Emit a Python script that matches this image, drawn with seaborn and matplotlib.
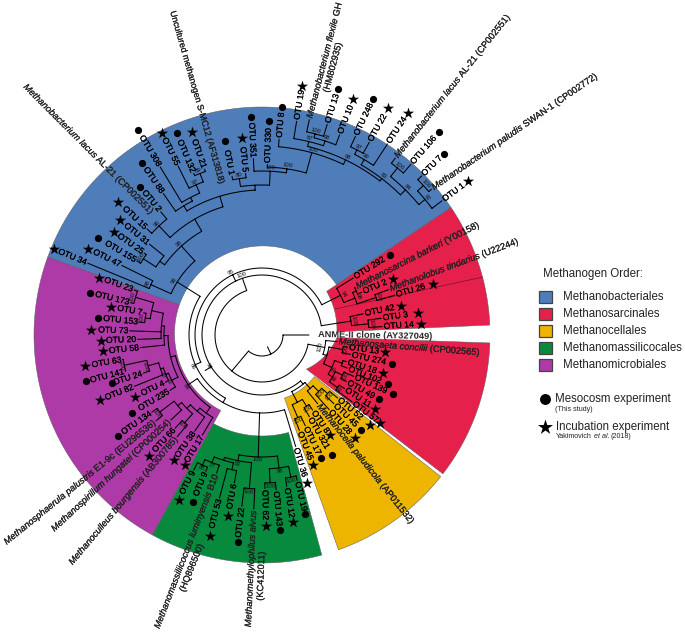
import numpy as np
import pandas as pd
import matplotlib
matplotlib.use("Agg")
import matplotlib.pyplot as plt
import matplotlib.patheffects as pe
from matplotlib.font_manager import FontProperties
from matplotlib.patches import Rectangle
from matplotlib.textpath import text_to_path
import seaborn as sns

FONT = "Liberation Sans"

# ---------- order sectors ----------
ORDER_NAMES = ["Methanobacteriales", "Methanosarcinales", "Methanocellales",
               "Methanomassilicocales", "Methanomicrobiales"]
ORDER_COLORS = ["#4E7DBA", "#E5204B", "#EDB400", "#078A3E", "#AD3AA6"]
SECTOR_ORDER = [0, 1, 1, 4, 3, 2]
SECTOR_START = [34, 2.5, 322.5, 160, 241.3, 289.6]
SECTOR_END = [160, 34, 358, 241.3, 285.2, 321.6]
SECTOR_R_START = [90, 75, 56, 88, 101, 67]
SECTOR_R_END = [88, 78, 75, 86, 101, 67]
OUTER_R = 228

# ---------- leaves: key, angle, inner end of label, marker radius, marker ----------
BLUE_KEYS = ["OTU 34", "OTU 47", "OTU 155", "OTU 25", "OTU 31", "OTU 15", "OTU 2", "OTU 88", "OTU 308",
             "OTU 55", "OTU 132", "OTU 21", "OTU 1", "OTU 5", "OTU 351", "OTU 330", "OTU 8", "OTU 19",
             "OTU 13", "OTU 10", "OTU 248", "OTU 22", "OTU 24", "OTU 106", "OTU 7", "OTU 1#b"]
BLUE_T = [157.6, 153.6, 149.4, 145.2, 141.1, 137.3, 129.4, 124.9, 121.2, 116.4, 112.9, 109.1, 100.7, 95.8,
          92.8, 88.2, 85, 80.8, 72.8, 68.8, 64.8, 60.9, 56.7, 48.9, 44.9, 36.7]
BLUE_R = [190, 158, 147, 145, 146, 158, 161, 174, 198, 190, 177, 177, 163, 164, 178, 172, 198, 218,
          222, 216, 221, 222, 230, 228, 227, 226]
BLUE_M = [225, 194, 190, 180, 183, 196, 192, 210, 240, 226, 219, 215, 197, 198, 218, 214, 229, 252,
          257, 253, 261, 260, 266, 269, 257, 257]
BLUE_S = ["*", "*", "o", "*", "*", "*", "o", "o", "o", "*", "o", "*", "o", "*", "o", "o", "o", "*",
          "o", "*", "o", "*", "*", "o", "o", "*"]

RED_KEYS = ["OTU 292", "OTU 2#r", "OTU 26", "OTU 42", "OTU 3", "OTU 14", "OTU 13#r", "OTU 274", "OTU 18",
            "OTU 102", "OTU 139", "OTU 49", "OTU 11", "OTU 57"]
RED_T = [32, 23.2, 16.7, 11.8, 8, 4, 352, 347.6, 342.5, 338.8, 335.7, 331.2, 327, 323.4]
RED_R = [109, 110, 140, 105, 122, 122, 88, 92, 90, 93, 102, 98, 100, 114]
RED_M = [151, 143, 179, 142, 158, 159, 124, 133, 127, 135, 144, 133, 135, 147]
RED_S = ["o", "*", "*", "*", "*", "*", "*", "o", "*", "o", "o", "o", "*", "*"]

YEL_KEYS = ["OTU 52", "OTU 45", "OTU 28", "OTU 8#y", "OTU 321", "OTU 17", "OTU 45#y", "OTU 36"]
YEL_T = [320.2, 316.3, 312, 304, 300.1, 295.5, 291.4, 286.8]
YEL_R = [100, 101, 102, 92, 96, 102, 104, 118]
YEL_M = [140, 137, 139, 121, 139, 136, 140, 155]
YEL_S = ["*", "o", "*", "*", "o", "o", "*", "*"]

GRN_KEYS = ["OTU 9#s", "OTU 9#c", "OTU 53", "OTU 6", "OTU 22#g", "OTU 62", "OTU 143", "OTU 12", "OTU 19#g"]
GRN_T = [243.2, 247.6, 255.4, 259.4, 263.3, 271.1, 275.2, 279.3, 283.6]
GRN_R = [153, 149, 170, 152, 174, 155, 157, 155, 151]
GRN_M = [185, 181, 208, 184, 208, 191, 196, 189, 184]
GRN_S = ["*", "o", "*", "*", "o", "*", "o", "*", "o"]

PUR_KEYS = ["OTU 23", "OTU 173", "OTU 7#p", "OTU 153", "OTU 73", "OTU 20", "OTU 58", "OTU 63", "OTU 141",
            "OTU 24#p", "OTU 82", "OTU 4", "OTU 235", "OTU 134", "OTU 66", "OTU 38", "OTU 17#p"]
PUR_T = [160.6, 166.2, 169.4, 174, 178.2, 182, 185.9, 190, 194.8, 197.8, 201.9, 206, 211, 215, 227, 235, 239.2]
PUR_R = [137, 137, 122, 125, 134, 126, 124, 143, 143, 126, 139, 109, 109, 136, 129, 119, 118]
PUR_M = [173, 177, 154, 165, 171, 161, 160, 180, 182, 158, 175, 141, 152, 176, 166, 153, 151]
PUR_S = ["*", "o", "*", "o", "*", "*", "*", "*", "o", "o", "*", "*", "o", "o", "*", "*", "*"]

# named reference sequences (italic part | roman part)
REF_KEYS = ["Methanobacterium lacus|AL-21 (CP002551)#l", "Uncultured methanogen S-MC12 (AF313818)",
            "Methanobacterium flexile|GH", "Methanobacterium lacus|AL-21 (CP002551)#r",
            "Methanobacterium paludis|SWAN-1 (CP002772)", "Methanosarcina barkeri|(Y00158)",
            "Methanolobus tindarius|(U22244)", "Methanosaeta concilii|(CP002565)",
            "Methanocella paludicola|(AP011532)", "Methanomethylophilus alvus",
            "Methanomassiliicoccus luminyensis|B10", "Methanosphaerula palustris|E1-9c (EU296536)",
            "Methanospirillum hungatei|(CP000254)", "Methanoculleus bourgensis|(AB300785)",
            "ANME-II clone (AY327049)"]
REF_T = [132, 104.8, 77.6, 53, 40.7, 27, 19.7, 355, 309, 267.3, 251.8, 219, 223, 230.2, 360]
REF_R = [164, 155, 222, 223, 225, 106, 136, 77, 90, 176, 147, 138, 126, 134, 56]
REF_ROT = [-45, -74, 75.5, 51.5, 34.5, 27, 20.5, -4.5, -51.5, 87.4, 69, 39, 43, 50, -1]

# accession numbers set on a second line
LINE2_TEXT = ["(HM802935)", "(KC412011)", "(HQ896500)"]
LINE2_T = [75.2, 270, 253.8]
LINE2_R = [251, 216, 218]
LINE2_ROT = [75, 88, 68]

# ---------- experiment legend ----------
LEGEND_TITLE = "Methanogen Order:"
EXP_NAMES = ["Mesocosm experiment", "Incubation experiment"]
EXP_NOTES = ["(This study)", "Yakimovich ", "et al.", " (2018)"]

KEYS = BLUE_KEYS + RED_KEYS + YEL_KEYS + GRN_KEYS + PUR_KEYS + REF_KEYS
THETA = dict(zip(KEYS, BLUE_T + RED_T + YEL_T + GRN_T + PUR_T + REF_T))
RIN = dict(zip(KEYS, BLUE_R + RED_R + YEL_R + GRN_R + PUR_R + REF_R))
LEAF_END_OVERRIDE = {"ANME-II clone (AY327049)": 47}


def N(r, *kids, s=None, at=None):
    return {"r": r, "kids": kids, "s": s, "at": at}


# ---------- tree: node radius, children, support ----------
R = REF_KEYS
n_flex = N(208, R[2], "OTU 13", s="100")
n_10 = N(204, n_flex, "OTU 10", s="68")
n_87 = N(199, "OTU 19", n_10, s="87")
n_97 = N(208, "OTU 248", "OTU 22", s="97")
n_99 = N(203, n_97, "OTU 24", s="99")
n_la = N(215, R[3], "OTU 106", s="100")
n_pa = N(220, "OTU 7", R[4], s="100")
n_b4 = N(212, n_pa, "OTU 1#b", s="92")
n_b3 = N(204, n_la, n_b4, s="84")
n_b2 = N(197, n_99, n_b3, s="83")
n_b1 = N(194, n_87, n_b2, s="68")
n_b0 = N(189, "OTU 8", n_b1, s="100")
n_330 = N(168, "OTU 330", n_b0, s="100")
n_351 = N(164, "OTU 351", n_330, s="100")
n_15 = N(158, "OTU 1", "OTU 5", s="80")
n_P = N(150, n_15, n_351)
n_21 = N(173, "OTU 132", "OTU 21", s="89")
n_55 = N(164, "OTU 55", n_21, s="97")
n_308 = N(155, "OTU 308", n_55)
n_U = N(151, "OTU 88", n_308)
n_T = N(145, n_U, n_P)
n_2 = N(150, "OTU 2", "OTU 15", s="96")
n_S = N(134, n_2, n_T)
n_25 = N(141, "OTU 25", "OTU 155", s="100")
n_W = N(126, "OTU 31", n_25)
n_Z = N(120, n_W, n_S, s="98")
n_Y = N(122, "OTU 47", "OTU 34", s="98")
BLUE = N(100, n_Z, n_Y, s="96", at=148)

n_23 = N(132, "OTU 23", "OTU 173", s="100")
n_7 = N(118, "OTU 7#p", "OTU 153", s="100")
n_t1 = N(113, n_23, n_7)
n_t2 = N(101, n_t1, "OTU 73", "OTU 20")
n_t3 = N(98, n_t2, "OTU 58")
n_63 = N(141, "OTU 63", "OTU 141", s="100")
n_24 = N(118, n_63, "OTU 24#p", s="100")
n_a1 = N(107, n_24, "OTU 82")
n_a2 = N(104, n_a1, "OTU 4", s="87")
n_a3 = N(101, n_a2, "OTU 235", s="93")
n_a4 = N(94, n_t3, n_a3)
n_134 = N(128, "OTU 134", R[11], s="100")
n_b_1 = N(110, n_134, R[12])
n_66 = N(117, "OTU 66", R[13], s="100")
n_b_2 = N(105, n_b_1, n_66)
n_b_3 = N(100, n_b_2, "OTU 38")
n_b_4 = N(96, n_b_3, "OTU 17#p")
PURPLE = N(89, n_a4, n_b_4, s="84", at=214)

n_99g = N(143, "OTU 9#s", "OTU 9#c", s="85")
n_g5 = N(137, n_99g, R[10], s="77")
n_53 = N(138, "OTU 53", "OTU 6")
n_g4 = N(131, n_g5, n_53)
n_22 = N(154, "OTU 22#g", R[9], s="100")
n_g2 = N(128, n_g4, n_22, s="92")
n_62 = N(148, "OTU 62", "OTU 143", s="100")
n_12 = N(145, "OTU 12", "OTU 19#g", s="100")
n_g3 = N(134, n_62, n_12, s="98")
GREEN = N(122, n_g2, n_g3, s="100")

K = N(78, PURPLE, GREEN, "OTU 36", at=240)
H = N(73, BLUE, K, s="86", at=204)

n_r2 = N(104, R[5], "OTU 2#r")
n_m = N(120, R[6], "OTU 26", s="100")
n_n = N(100, n_r2, n_m, s="98")
UP_RED = N(88, "OTU 292", n_n, s="94")
G = N(67, UP_RED, H, s="95", at=116)

n_3 = N(107, "OTU 3", "OTU 14", s="100")
RED3 = N(90, "OTU 42", n_3, s="100")

n_ya = N(88, "OTU 52", "OTU 45", s="100")
n_yb = N(80, n_ya, "OTU 28", s="100")
n_yc = N(72, n_yb, R[8])
n_yd = N(84, "OTU 8#y", "OTU 321", s="100")
n_ye = N(90, "OTU 17", "OTU 45#y", s="100")
n_yf = N(76, n_yd, n_ye)
YELLOW = N(64, n_yc, n_yf, at=310)

B = N(60, RED3, G, YELLOW, s="100", at=109)

n_13 = N(82, "OTU 13#r", "OTU 274", s="100")
n_18 = N(85, "OTU 18", "OTU 102")
n_l4 = N(90, "OTU 139", "OTU 49", s="100")
n_l5 = N(92, "OTU 11", "OTU 57", s="99")
n_l3 = N(82, n_l4, n_l5, s="96")
n_l2 = N(77, n_18, n_l3, s="95")
n_l1 = N(68, n_13, n_l2)
LOW_RED = N(64, R[7], n_l1)
n_l_stem = N(56, LOW_RED, s="100")

A = N(47, B, n_l_stem, at=230)
ROOT = N(21, A, R[14])
ROOT_STUB = 13
EXTRA_SPOKE = (212, 60, 67)
EXTRA_SUPPORT = (210, 62, "96")

# ---------- figure ----------
sns.set_theme(style="white")
plt.rcParams["font.family"] = [FONT, "DejaVu Sans"]

W, H_PX, DPI = 685, 636, 100
CX, CY, RMAX = 262, 335, 350
fig = plt.figure(figsize=(W / DPI, H_PX / DPI), dpi=DPI, facecolor="white")
ax = fig.add_axes([(CX - RMAX) / W, (H_PX - CY - RMAX) / H_PX, 2 * RMAX / W, 2 * RMAX / H_PX],
                  projection="polar")
ax.set_theta_zero_location("E")
ax.set_theta_direction(1)
ax.patch.set_alpha(0)
THICK = [pe.withStroke(linewidth=0.12, foreground="black")]


def rad(d):
    return np.deg2rad(d)


# sectors
for oi, t0, t1, r0, r1 in zip(SECTOR_ORDER, SECTOR_START, SECTOR_END, SECTOR_R_START, SECTOR_R_END):
    outer = np.linspace(t0, t1, 120)
    inner = outer[::-1]
    ax.fill(rad(np.r_[outer, inner]),
            np.r_[np.full(120, OUTER_R), np.interp(inner, [t0, t1], [r0, r1])],
            facecolor=ORDER_COLORS[oi], edgecolor="#5a5a5a", linewidth=0.35, zorder=1)
ax.plot(rad([19.6, 14.7]), [77.5, OUTER_R], color="#7a1030", lw=0.5, zorder=2)

# tree
seg_t, seg_r, sup = [], [], []


def angle(k):
    if isinstance(k, str):
        return THETA[k]
    if k["at"] is not None:
        return k["at"]
    a = [angle(c) for c in k["kids"]]
    return 0.5 * (min(a) + max(a))


def radius(k):
    if isinstance(k, str):
        return LEAF_END_OVERRIDE.get(k, RIN[k] - 1.5)
    return k["r"]


def walk(n):
    a = [angle(c) for c in n["kids"]]
    me = angle(n)
    lo, hi = min(a + [me]), max(a + [me])
    tt = np.linspace(lo, hi, max(int(hi - lo) * 2, 2))
    seg_t.extend(list(tt) + [np.nan])
    seg_r.extend([n["r"]] * len(tt) + [np.nan])
    for c, ac in zip(n["kids"], a):
        seg_t.extend([ac, ac, np.nan])
        seg_r.extend([n["r"], radius(c), np.nan])
        if not isinstance(c, str):
            walk(c)
    if n["s"]:
        sup.append((me, n["r"] + 3.2, n["s"]))


walk(ROOT)
root_a = angle(ROOT)
seg_t.extend([root_a, root_a, np.nan, EXTRA_SPOKE[0], EXTRA_SPOKE[0], np.nan])
seg_r.extend([ROOT_STUB, ROOT["r"], np.nan, EXTRA_SPOKE[1], EXTRA_SPOKE[2], np.nan])
sup.append(EXTRA_SUPPORT)
ax.plot(rad(np.array(seg_t)), seg_r, color="black", lw=0.75, zorder=3, solid_capstyle="round")

for t, r, s in sup:
    rot = ((t - 90 + 90) % 180) - 90
    ax.text(rad(t), r, s, fontsize=4.3, color="#111111", rotation=rot, rotation_mode="anchor",
            ha="center", va="center", zorder=4)


# labels
def width_pt(s, size, style="normal"):
    fp = FontProperties(family=FONT, style=style, size=size)
    return text_to_path.get_text_width_height_descent(s, fp, False)[0]


def placement(t):
    t = t % 360
    if 90 < t < 270:
        return "right", t - 180
    return "left", (t - 360 if t > 270 else t)


FS = 6.65
FS_OTU = 6.2
for key, t, r in zip(BLUE_KEYS + RED_KEYS + YEL_KEYS + GRN_KEYS + PUR_KEYS,
                     BLUE_T + RED_T + YEL_T + GRN_T + PUR_T,
                     BLUE_R + RED_R + YEL_R + GRN_R + PUR_R):
    ha, rot = placement(t)
    ax.text(rad(t), r, key.split("#")[0], fontsize=FS_OTU, color="black", ha=ha, va="center",
            rotation=rot, rotation_mode="anchor", zorder=5, path_effects=THICK)


def ref_label(key, t, r, rot):
    ha, _ = placement(t)
    text = key.split("#")[0]
    c, s = np.cos(rad(rot)), np.sin(rad(rot))
    if text.startswith("ANME"):
        ax.text(rad(t), r, text, fontsize=FS, fontweight="bold", ha=ha, va="center", rotation=rot,
                rotation_mode="anchor", zorder=6)
        return
    if text.startswith("Uncultured"):
        ax.text(rad(t), r, text, fontsize=6.4, ha=ha, va="center", rotation=rot,
                rotation_mode="anchor", zorder=6, path_effects=THICK)
        return
    parts = text.split("|")
    ital = parts[0]
    rom = parts[1] if len(parts) > 1 else ""
    gap = 0.278 * FS
    if ha == "left":
        offs = [0, width_pt(ital, FS, "italic") + gap]
    else:
        offs = [-(width_pt(rom, FS) + gap) if rom else 0, 0]
    for txt, st, o in zip([ital, rom], ["italic", "normal"], offs):
        if txt:
            ax.annotate(txt, xy=(rad(t), r), xycoords="data", xytext=(o * c, o * s),
                        textcoords="offset points", fontsize=FS, fontstyle=st, ha=ha, va="center",
                        rotation=rot, rotation_mode="anchor", annotation_clip=False, zorder=6,
                        path_effects=THICK)


for key, t, r, rot in zip(REF_KEYS, REF_T, REF_R, REF_ROT):
    ref_label(key, t, r, rot)

for txt, t, r, rot in zip(LINE2_TEXT, LINE2_T, LINE2_R, LINE2_ROT):
    ha, _ = placement(t if t != 270 else 269)
    ax.text(rad(t), r, txt, fontsize=FS, ha=ha, va="center", rotation=rot,
            rotation_mode="anchor", zorder=6, path_effects=THICK)

# experiment markers
marks = pd.DataFrame({
    "theta": rad(np.array(BLUE_T + RED_T + YEL_T + GRN_T + PUR_T)),
    "r": BLUE_M + RED_M + YEL_M + GRN_M + PUR_M,
    "kind": BLUE_S + RED_S + YEL_S + GRN_S + PUR_S,
})
sns.scatterplot(data=marks[marks.kind == "o"], x="theta", y="r", marker="o", s=27, color="black",
                linewidth=0, ax=ax, legend=False, zorder=7, clip_on=False)
sns.scatterplot(data=marks[marks.kind == "*"], x="theta", y="r", marker="*", s=72, color="black",
                linewidth=0, ax=ax, legend=False, zorder=7, clip_on=False)
ax.set_ylim(0, RMAX)
ax.set_xlabel("")
ax.set_ylabel("")
ax.set_axis_off()

# legend panel in pixel-like coordinates
lg = fig.add_axes([0, 0, 1, 1], facecolor="none")
LG_FS = 8.3
lg_pts = pd.DataFrame({"x": [545, 545], "y": [399, 427], "k": ["o", "*"]})
sns.scatterplot(data=lg_pts[lg_pts.k == "o"], x="x", y="y", marker="o", s=62, color="black", linewidth=0,
                ax=lg, legend=False)
sns.scatterplot(data=lg_pts[lg_pts.k == "*"], x="x", y="y", marker="*", s=130, color="black", linewidth=0,
                ax=lg, legend=False)
lg.set_xlim(0, W)
lg.set_ylim(H_PX, 0)
lg.set_axis_off()
lg.text(543, 273.5, LEGEND_TITLE, fontsize=LG_FS, color="#222222", va="center")
for i, (nm, col) in enumerate(zip(ORDER_NAMES, ORDER_COLORS)):
    y = 297 + i * 16.9
    lg.add_patch(Rectangle((539.5, y - 6), 12.5, 12, facecolor=col, edgecolor="#444444", lw=0.9))
    lg.text(563, y, nm, fontsize=LG_FS, color="#222222", va="center")
lg.text(555, 399, EXP_NAMES[0], fontsize=LG_FS, color="#222222", va="center")
lg.text(556, 427, EXP_NAMES[1], fontsize=LG_FS, color="#222222", va="center")
NOTE_FS = 5.1
lg.text(555, 409.5, EXP_NOTES[0], fontsize=NOTE_FS, color="#222222", va="center")
x = 556.0
for piece, st in zip(EXP_NOTES[1:], ["normal", "italic", "normal"]):
    lg.text(x, 437, piece.strip(), fontsize=NOTE_FS, fontstyle=st, color="#222222", va="center")
    x += (width_pt(piece.strip(), NOTE_FS, st) + 0.278 * NOTE_FS) * DPI / 72

fig.savefig("out.png", dpi=DPI, facecolor="white")
